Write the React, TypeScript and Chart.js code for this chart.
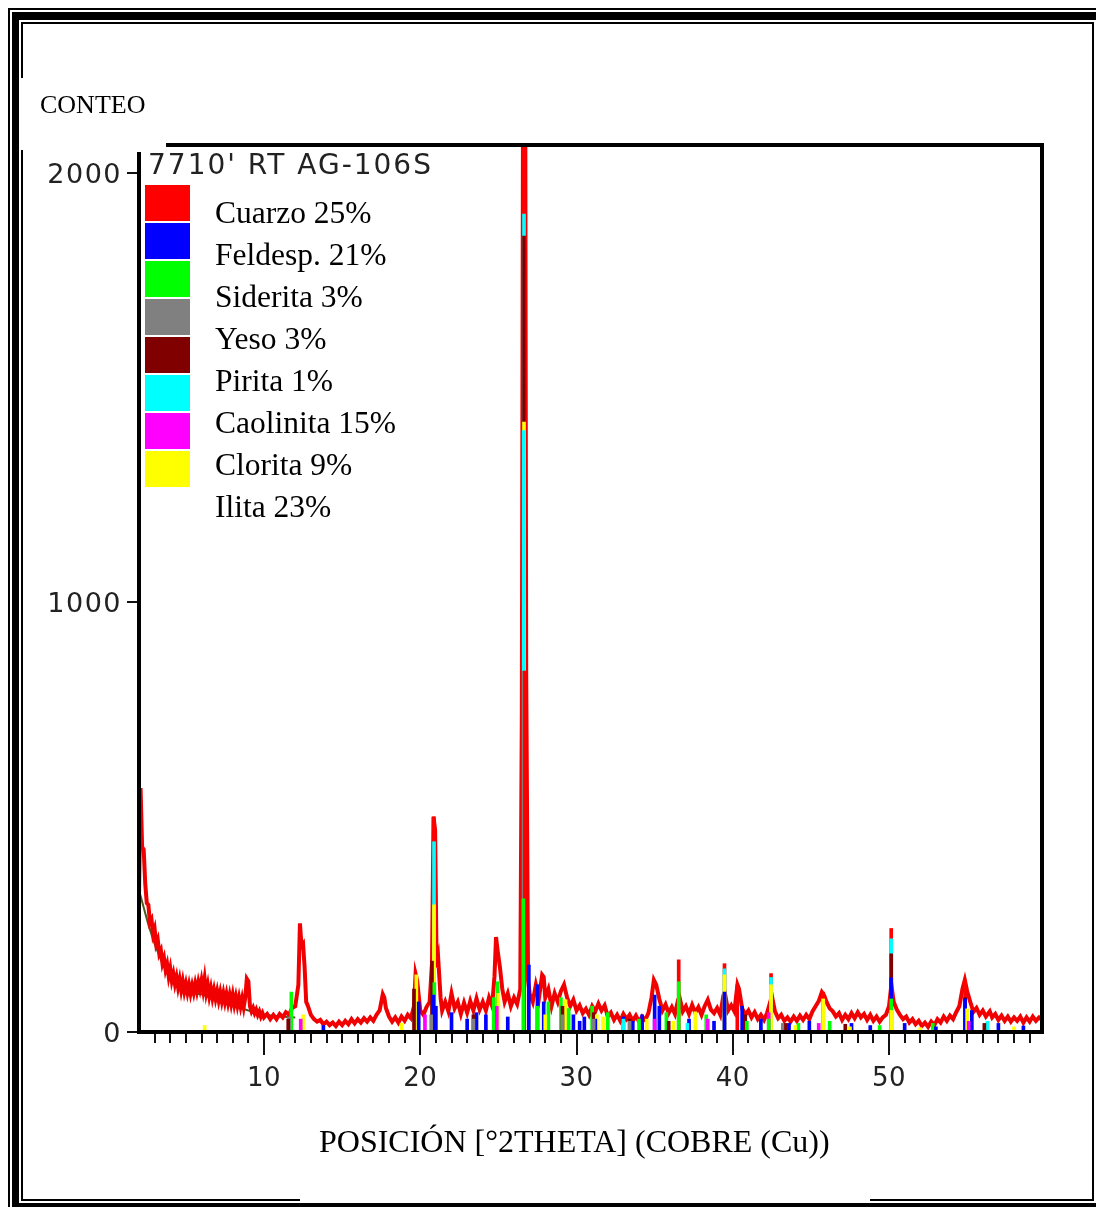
import { useEffect, useRef } from 'react';
import { Chart, registerables } from 'chart.js';

Chart.register(...registerables);

type P = [number, number];

// Measured diffractogram: [°2θ, counts]
const profilePoints: P[] = [
  [2.0, 320], [2.1, 568], [2.2, 430], [2.3, 425], [2.4, 345], [2.5, 300], [2.6, 296], [2.7, 255], [2.8, 262], [2.9, 228],
  [3.0, 240], [3.1, 205], [3.2, 215], [3.3, 182], [3.4, 190], [3.5, 160], [3.6, 172], [3.7, 145], [3.8, 158], [3.9, 130],
  [4.0, 148], [4.1, 120], [4.2, 135], [4.3, 112], [4.4, 128], [4.5, 104], [4.6, 122], [4.7, 98], [4.8, 118], [4.9, 95],
  [5.0, 112], [5.1, 92], [5.2, 110], [5.3, 90], [5.4, 108], [5.5, 92], [5.6, 112], [5.7, 95], [5.8, 116], [5.9, 100],
  [6.0, 120], [6.1, 98], [6.2, 124], [6.3, 92], [6.4, 110], [6.5, 84], [6.6, 102], [6.7, 80], [6.8, 98], [6.9, 78],
  [7.0, 95], [7.1, 74], [7.2, 92], [7.3, 72], [7.4, 90], [7.5, 70], [7.6, 88], [7.7, 68], [7.8, 86], [7.9, 66],
  [8.0, 86], [8.1, 64], [8.2, 82], [8.3, 62], [8.4, 80], [8.5, 60], [8.6, 78], [8.7, 58], [8.8, 80], [8.9, 124],
  [9.0, 118], [9.1, 60], [9.2, 48], [9.3, 56], [9.4, 44], [9.5, 52], [9.6, 40], [9.7, 48], [9.8, 36], [9.9, 44],
  [10.0, 34], [10.2, 42], [10.4, 30], [10.6, 40], [10.8, 30], [11.0, 42], [11.2, 34], [11.4, 46], [11.6, 40], [11.8, 56],
  [12.0, 60], [12.2, 110], [12.3, 253], [12.4, 200], [12.5, 205], [12.6, 150], [12.7, 70], [12.8, 62], [13.0, 40], [13.2, 30],
  [13.4, 24], [13.6, 28], [13.8, 18], [14.0, 24], [14.2, 16], [14.4, 22], [14.6, 14], [14.8, 24], [15.0, 16], [15.2, 26],
  [15.4, 18], [15.6, 30], [15.8, 20], [16.0, 30], [16.2, 22], [16.4, 32], [16.6, 24], [16.8, 34], [17.0, 26], [17.2, 40],
  [17.4, 50], [17.6, 88], [17.7, 80], [17.8, 56], [18.0, 36], [18.2, 24], [18.4, 34], [18.6, 22], [18.8, 36], [19.0, 26],
  [19.2, 40], [19.4, 32], [19.6, 60], [19.7, 135], [19.8, 120], [20.0, 50], [20.2, 40], [20.4, 58], [20.6, 70], [20.75, 160],
  [20.85, 501], [20.95, 470], [21.05, 150], [21.15, 170], [21.3, 80], [21.4, 50], [21.6, 70], [21.8, 48], [22.0, 90], [22.2, 55],
  [22.4, 70], [22.6, 42], [22.8, 68], [23.0, 45], [23.2, 72], [23.4, 50], [23.6, 78], [23.8, 52], [24.0, 70], [24.2, 50],
  [24.4, 80], [24.6, 60], [24.75, 130], [24.85, 221], [24.95, 190], [25.1, 150], [25.25, 100], [25.4, 70], [25.6, 90], [25.8, 60],
  [26.0, 80], [26.2, 65], [26.4, 100], [26.5, 740], [26.6, 2600], [26.7, 2600], [26.78, 835], [26.9, 120], [27.0, 90], [27.2, 70],
  [27.4, 110], [27.6, 80], [27.8, 133], [27.9, 128], [28.0, 80], [28.2, 100], [28.4, 60], [28.6, 90], [28.8, 70], [29.0, 95],
  [29.2, 110], [29.4, 80], [29.6, 60], [29.8, 75], [30.0, 50], [30.2, 62], [30.4, 44], [30.6, 54], [30.8, 40], [31.0, 60],
  [31.2, 48], [31.4, 66], [31.6, 50], [31.8, 62], [32.0, 36], [32.2, 45], [32.4, 28], [32.6, 40], [32.8, 26], [33.0, 42],
  [33.2, 30], [33.4, 40], [33.6, 26], [33.8, 38], [34.0, 24], [34.2, 36], [34.4, 28], [34.6, 44], [34.8, 80], [34.95, 121],
  [35.1, 110], [35.3, 77], [35.5, 50], [35.7, 64], [35.9, 44], [36.1, 58], [36.3, 42], [36.5, 75], [36.6, 80], [36.8, 48],
  [37.0, 60], [37.2, 42], [37.4, 63], [37.6, 45], [37.8, 58], [38.0, 40], [38.2, 60], [38.4, 75], [38.6, 52], [38.8, 44],
  [39.0, 56], [39.2, 40], [39.4, 85], [39.5, 90], [39.7, 50], [39.9, 62], [40.1, 48], [40.3, 110], [40.4, 100], [40.6, 55],
  [40.8, 40], [41.0, 50], [41.2, 34], [41.4, 46], [41.6, 30], [41.8, 40], [42.0, 28], [42.2, 45], [42.4, 70], [42.5, 85],
  [42.7, 48], [42.9, 32], [43.1, 40], [43.3, 26], [43.5, 34], [43.7, 24], [43.9, 36], [44.1, 26], [44.3, 38], [44.5, 28],
  [44.7, 40], [44.9, 30], [45.1, 48], [45.3, 60], [45.5, 72], [45.7, 93], [45.85, 85], [46.0, 70], [46.2, 55], [46.4, 48],
  [46.6, 36], [46.8, 44], [47.0, 28], [47.2, 40], [47.4, 30], [47.6, 44], [47.8, 32], [48.0, 46], [48.2, 34], [48.4, 42],
  [48.6, 28], [48.8, 40], [49.0, 26], [49.2, 36], [49.4, 24], [49.6, 34], [49.8, 40], [50.0, 60], [50.15, 110], [50.3, 70],
  [50.5, 52], [50.7, 40], [50.9, 30], [51.1, 36], [51.3, 22], [51.5, 30], [51.7, 18], [51.9, 26], [52.1, 14], [52.3, 22],
  [52.5, 12], [52.7, 24], [52.9, 16], [53.1, 30], [53.3, 22], [53.5, 36], [53.7, 26], [53.9, 38], [54.1, 30], [54.3, 46],
  [54.5, 60], [54.7, 100], [54.85, 121], [55.0, 95], [55.2, 70], [55.4, 47], [55.6, 56], [55.8, 40], [56.0, 50], [56.2, 36],
  [56.45, 48], [56.6, 34], [56.8, 42], [57.0, 28], [57.2, 38], [57.4, 26], [57.6, 36], [57.8, 24], [58.0, 34], [58.2, 26],
  [58.4, 36], [58.6, 22], [58.8, 34], [59.0, 24], [59.2, 36], [59.4, 26], [59.6, 34], [59.8, 28],
];

// Dark background trace visible under the low-angle band
const backgroundPoints: P[] = [
  [2.0, 330], [2.3, 290], [2.6, 250], [3.0, 205], [3.5, 160], [4.0, 130], [4.5, 110], [5.0, 95], [5.5, 90],
  [6.0, 88], [6.5, 80], [7.0, 72], [7.5, 66], [8.0, 60], [8.5, 56], [9.0, 50], [10.0, 40], [11.0, 36], [12.0, 34],
];

// Reference stick patterns: [°2θ, counts]
const cuarzoSticks: P[] = [
  [20.86, 501], [26.64, 2600], [26.66, 840], [36.54, 168], [39.47, 159], [40.29, 110], [42.45, 136], [45.79, 93], [50.14, 241],
  [54.87, 121], [59.96, 60],
];
const feldespSticks: P[] = [
  [13.8, 15], [19.9, 70], [20.85, 86], [21.0, 60], [22.0, 45], [23.0, 30], [23.6, 45], [24.2, 40], [25.6, 35], [26.95, 156],
  [27.5, 110], [27.9, 70], [29.8, 40], [30.2, 25], [30.5, 35], [31.2, 30], [33.0, 35], [33.6, 25], [34.2, 40], [35.0, 86],
  [35.3, 60], [37.2, 30], [38.8, 25], [39.47, 93], [40.6, 60], [41.8, 30], [43.6, 20], [44.9, 25], [47.6, 20], [48.8, 15],
  [50.14, 126], [51.0, 20], [53.0, 12], [54.87, 77], [55.3, 50], [57.0, 20], [58.6, 14],
];
const sideritaSticks: P[] = [
  [11.75, 93], [20.9, 115], [24.7, 80], [24.95, 117], [26.6, 310], [27.5, 60], [28.2, 70], [29.0, 80], [29.5, 55], [31.0, 60],
  [32.0, 45], [34.0, 30], [35.75, 45], [36.54, 117], [38.3, 40], [40.9, 25], [42.3, 30], [44.2, 20], [46.2, 25], [49.4, 15],
  [50.14, 77], [52.8, 20],
];
const yesoSticks: P[] = [
  [11.6, 35], [20.7, 40], [23.4, 30], [29.1, 40], [31.1, 30], [33.4, 25], [43.2, 20],
];
const piritaSticks: P[] = [
  [11.55, 30], [19.6, 100], [20.75, 165], [23.4, 40], [26.64, 1853], [29.1, 60], [31.1, 45], [33.4, 30], [35.9, 25], [40.8, 40],
  [43.4, 20], [47.2, 18], [50.14, 182], [54.87, 80], [56.1, 20],
];
const caolinitaSticks: P[] = [
  [20.88, 443], [26.64, 1904], [26.62, 1400], [33.0, 30], [37.1, 20], [39.47, 147], [42.45, 127], [50.14, 217], [56.3, 25], [59.9, 16],
];
const cloritaSticks: P[] = [
  [12.35, 30], [20.3, 40], [24.9, 60], [35.0, 30], [38.4, 30], [42.3, 45], [45.5, 20], [55.1, 25],
];
const ilitaSticks: P[] = [
  [6.2, 15], [12.5, 40], [18.8, 20], [19.75, 133], [20.88, 296], [25.0, 90], [26.64, 1420], [28.0, 40], [29.3, 75], [31.3, 40],
  [31.7, 35], [34.5, 30], [36.2, 25], [37.6, 47], [39.47, 133], [42.45, 110], [44.0, 15], [45.79, 77], [47.5, 12], [50.14, 50],
  [52.0, 10], [55.0, 54], [58.0, 12],
];

const phaseLabels = ['Cuarzo 25%', 'Feldesp. 21%', 'Siderita 3%', 'Yeso 3%', 'Pirita 1%', 'Caolinita 15%', 'Clorita 9%', 'Ilita 23%'];
const phaseColors = ['#ff0000', '#0000ff', '#00ff00', '#808080', '#800000', '#00ffff', '#ff00ff', '#ffff00'];
const phaseSticks = [cuarzoSticks, feldespSticks, sideritaSticks, yesoSticks, piritaSticks, caolinitaSticks, cloritaSticks, ilitaSticks];

const xTickLabels = [10, 20, 30, 40, 50];
const yTickLabels = [0, 1000, 2000];
const sampleTitle = "7710' RT AG-106S";
const yAxisTitle = 'CONTEO';
const xAxisTitle = 'POSICIÓN [°2THETA] (COBRE (Cu))';

const X_MIN = 2;
const X_MAX = 59.79;
const Y_MAX = 2065;

const W = 1096;
const H = 1207;

const overlayPlugin = {
  id: 'xrdOverlay',
  beforeDraw(chart: any) {
    const { ctx } = chart;
    ctx.save();
    ctx.fillStyle = '#ffffff';
    ctx.fillRect(0, 0, chart.width, chart.height);
    ctx.restore();
  },
  afterDraw(chart: any) {
    const { ctx, chartArea: a } = chart;
    const xs = chart.scales.x;
    const ys = chart.scales.y;
    ctx.save();

    // plot frame
    ctx.strokeStyle = '#000';
    ctx.lineWidth = 4;
    ctx.strokeRect(a.left, a.top, a.right - a.left, a.bottom - a.top);
    // open top-left corner under the sample title
    ctx.fillStyle = '#fff';
    ctx.fillRect(a.left - 3, a.top - 3, 30, 10);

    // x ticks
    ctx.lineWidth = 2;
    ctx.strokeStyle = '#111';
    for (let v = Math.ceil(X_MIN + 0.5); v <= Math.floor(X_MAX); v++) {
      const px = Math.round(xs.getPixelForValue(v));
      const len = v % 10 === 0 ? 21 : 9;
      ctx.beginPath();
      ctx.moveTo(px, a.bottom + 2);
      ctx.lineTo(px, a.bottom + 2 + len);
      ctx.stroke();
    }
    // y ticks
    for (const v of yTickLabels) {
      const py = Math.round(ys.getPixelForValue(v));
      ctx.beginPath();
      ctx.moveTo(a.left - 2, py);
      ctx.lineTo(a.left - 12, py);
      ctx.stroke();
    }

    // tick labels
    ctx.fillStyle = '#222';
    ctx.font = '26px "DejaVu Sans"';
    ctx.textBaseline = 'alphabetic';
    ctx.textAlign = 'center';
    (ctx as any).letterSpacing = '0.5px';
    for (const v of xTickLabels) {
      ctx.fillText(String(v), xs.getPixelForValue(v), a.bottom + 54);
    }
    ctx.textAlign = 'right';
    ctx.font = '27px "DejaVu Sans"';
    (ctx as any).letterSpacing = '1.5px';
    for (const v of yTickLabels) {
      ctx.fillText(String(v), a.left - 17, ys.getPixelForValue(v) + 10);
    }

    // sample title inside plot
    ctx.textAlign = 'left';
    ctx.font = '28px "DejaVu Sans"';
    (ctx as any).letterSpacing = '2px';
    ctx.fillText(sampleTitle, a.left + 9, a.top + 29);
    (ctx as any).letterSpacing = '0px';

    // legend boxes
    phaseColors.forEach((c, i) => {
      ctx.fillStyle = c;
      ctx.fillRect(a.left + 6, a.top + 40 + i * 38, 45, 36);
    });
    // legend labels
    ctx.fillStyle = '#000';
    ctx.font = '31.5px "Liberation Serif"';
    phaseLabels.forEach((t, i) => {
      ctx.fillText(t, a.left + 76, a.top + 78 + i * 42);
    });

    // page texts
    ctx.font = '26px "Liberation Serif"';
    ctx.fillText(yAxisTitle, 40, 113);
    ctx.font = '32px "Liberation Serif"';
    ctx.fillText(xAxisTitle, 319, 1152);

    ctx.restore();
  },
};

export default function App() {
  const ref = useRef<HTMLCanvasElement | null>(null);

  useEffect(() => {
    if (!ref.current) return;
    const sticks: { x: number; y: number; c: string }[] = [];
    phaseSticks.forEach((arr, i) => {
      arr.forEach(([x, y]) => sticks.push({ x, y, c: phaseColors[i] }));
    });
    sticks.sort((p, q) => q.y - p.y);

    const chart = new Chart(ref.current, {
      type: 'line',
      data: {
        datasets: [
          {
            type: 'bar',
            label: 'Fases',
            data: sticks.map((s) => ({ x: s.x, y: s.y })),
            backgroundColor: sticks.map((s) => s.c),
            borderWidth: 0,
            barThickness: 3,
            grouped: false,
            order: 0,
          } as any,
          {
            type: 'line',
            label: 'Patrón medido',
            data: profilePoints.map(([x, y]) => ({ x, y })),
            borderColor: '#f00000',
            borderWidth: 4,
            pointRadius: 0,
            tension: 0,
            order: 1,
          },
          {
            type: 'line',
            label: 'Fondo',
            data: backgroundPoints.map(([x, y]) => ({ x, y })),
            borderColor: '#4b5a1e',
            borderWidth: 2,
            pointRadius: 0,
            tension: 0,
            order: 2,
          },
        ],
      },
      options: {
        responsive: false,
        animation: false,
        devicePixelRatio: 1,
        layout: { padding: { left: 139, top: 145, right: 54, bottom: 175 } },
        plugins: { legend: { display: false }, tooltip: { enabled: false }, title: { display: false } },
        events: [],
        scales: {
          x: { type: 'linear', min: X_MIN, max: X_MAX, display: false, offset: false },
          y: { type: 'linear', min: 0, max: Y_MAX, display: false },
        },
      },
      plugins: [overlayPlugin],
    } as any);
    return () => chart.destroy();
  }, []);

  const line = (l: number, t: number, w: number, h: number) => (
    <div style={{ position: 'absolute', left: l, top: t, width: w, height: h, background: '#000' }} />
  );

  return (
    <div style={{ position: 'fixed', left: 0, top: 0, width: W, height: H, background: '#fff', overflow: 'hidden' }}>
      <canvas ref={ref} width={W} height={H} style={{ position: 'absolute', left: 0, top: 0, width: W, height: H }} />
      {line(8, 8, 1088, 2)}
      {line(12, 12, 1084, 8)}
      {line(21, 22, 1073, 2)}
      {line(8, 8, 2, 1199)}
      {line(12, 12, 7, 1195)}
      {line(21, 22, 2, 56)}
      {line(21, 150, 2, 1051)}
      {line(1092, 22, 2, 1179)}
      {line(21, 1199, 279, 2)}
      {line(870, 1199, 224, 2)}
      {line(12, 1203, 1084, 4)}
    </div>
  );
}
